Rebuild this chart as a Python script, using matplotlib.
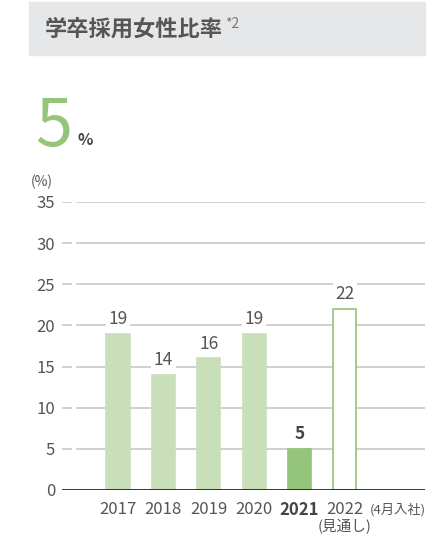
import matplotlib
matplotlib.use("Agg")
import matplotlib.pyplot as plt
from matplotlib.patches import Rectangle

plt.rcParams['font.family'] = ['Noto Sans CJK JP', 'DejaVu Sans']

# ── data ─────────────────────────────────────────────────────────────
years = ["2017", "2018", "2019", "2020", "2021", "2022"]
values = [19, 14, 16, 19, 5, 22]
yticks = [0, 5, 10, 15, 20, 25, 30, 35]

# ── styling ──────────────────────────────────────────────────────────
LIGHT = "#c9dfb9"
DARK = "#95c47b"
TEXT = "#555555"
GRID = "#c8c8c8"
NARROW = ['Liberation Sans Narrow', 'Noto Sans CJK JP', 'DejaVu Sans']

W, H = 443, 540
fig = plt.figure(figsize=(W / 100, H / 100), dpi=100)

# header band
fig.patches.append(Rectangle((29 / W, 1 - 55 / H), 396 / W, 53 / H,
                             transform=fig.transFigure, color="#e6e7e9", zorder=0))
fig.text(45 / W, 1 - 29 / H, "学卒採用女性比率", fontsize=16, fontweight="bold",
         color=TEXT, va="center", ha="left")
fig.text(225 / W, 1 - 24 / H, "*2", fontsize=10, color="#777777", va="center", ha="left")

# headline figure
fig.text(35 / W, 1 - 146 / H, "5", fontsize=48, fontweight="normal", color=DARK,
         va="baseline", ha="left")
fig.text(78 / W, 1 - 145 / H, "%", fontsize=11.5, fontweight="bold", color="#444444",
         va="baseline", ha="left")

# ── chart ────────────────────────────────────────────────────────────
ax = fig.add_axes([62 / W, 1 - 490 / H, 363 / W, 288 / H])
x = list(range(len(years)))
colors = [LIGHT, LIGHT, LIGHT, LIGHT, DARK, "white"]
edges = [LIGHT, LIGHT, LIGHT, LIGHT, DARK, DARK]
ax.bar(x, values, width=0.51, color=colors, edgecolor=edges, linewidth=1.2, zorder=3)

ax.set_xlim(-1.236, 6.77)
ax.set_ylim(0, 35)

for t in yticks[1:]:
    ax.axhline(t, xmin=0.042, xmax=1, color=GRID, linewidth=1.2, zorder=1)
    ax.axhline(t, xmin=0.0, xmax=0.024, color=GRID, linewidth=1.2, zorder=1)
ax.axhline(0, color="#222222", linewidth=2, zorder=4)

for s in ax.spines.values():
    s.set_visible(False)
ax.set_xticks([])
ax.set_yticks(yticks)
ax.tick_params(axis="y", length=0, pad=5, labelsize=12, labelcolor=TEXT)
for lbl in ax.get_yticklabels():
    lbl.set_family(NARROW)

# value labels
for xi, v in zip(x, values):
    bold = years[xi] == "2021"
    ax.annotate(str(v), (xi, v), xytext=(0, 4), textcoords="offset points",
                ha="center", va="bottom", fontsize=12.5, family=NARROW,
                fontweight="bold" if bold else "normal",
                color="#444444" if bold else TEXT, zorder=5,
                bbox=dict(boxstyle="square,pad=0.15", fc="white", ec="none"))

# year labels
for xi, y in zip(x, years):
    bold = y == "2021"
    ax.text(xi, -2.4, y, ha="center", va="center", fontsize=12, family=NARROW,
            fontweight="bold" if bold else "normal",
            color="#444444" if bold else TEXT)
ax.text(5, -4.45, "(見通し)", ha="center", va="center", fontsize=10.5,
        color=TEXT, family=NARROW)
ax.text(6.16, -2.4, "(4月入社)", ha="center", va="center", fontsize=9.5,
        color=TEXT, family=NARROW)

fig.text(42 / W, 1 - 182 / H, "(%)", fontsize=10, color=TEXT, ha="center",
         va="center", family=NARROW)

fig.savefig("out.png", dpi=100)
